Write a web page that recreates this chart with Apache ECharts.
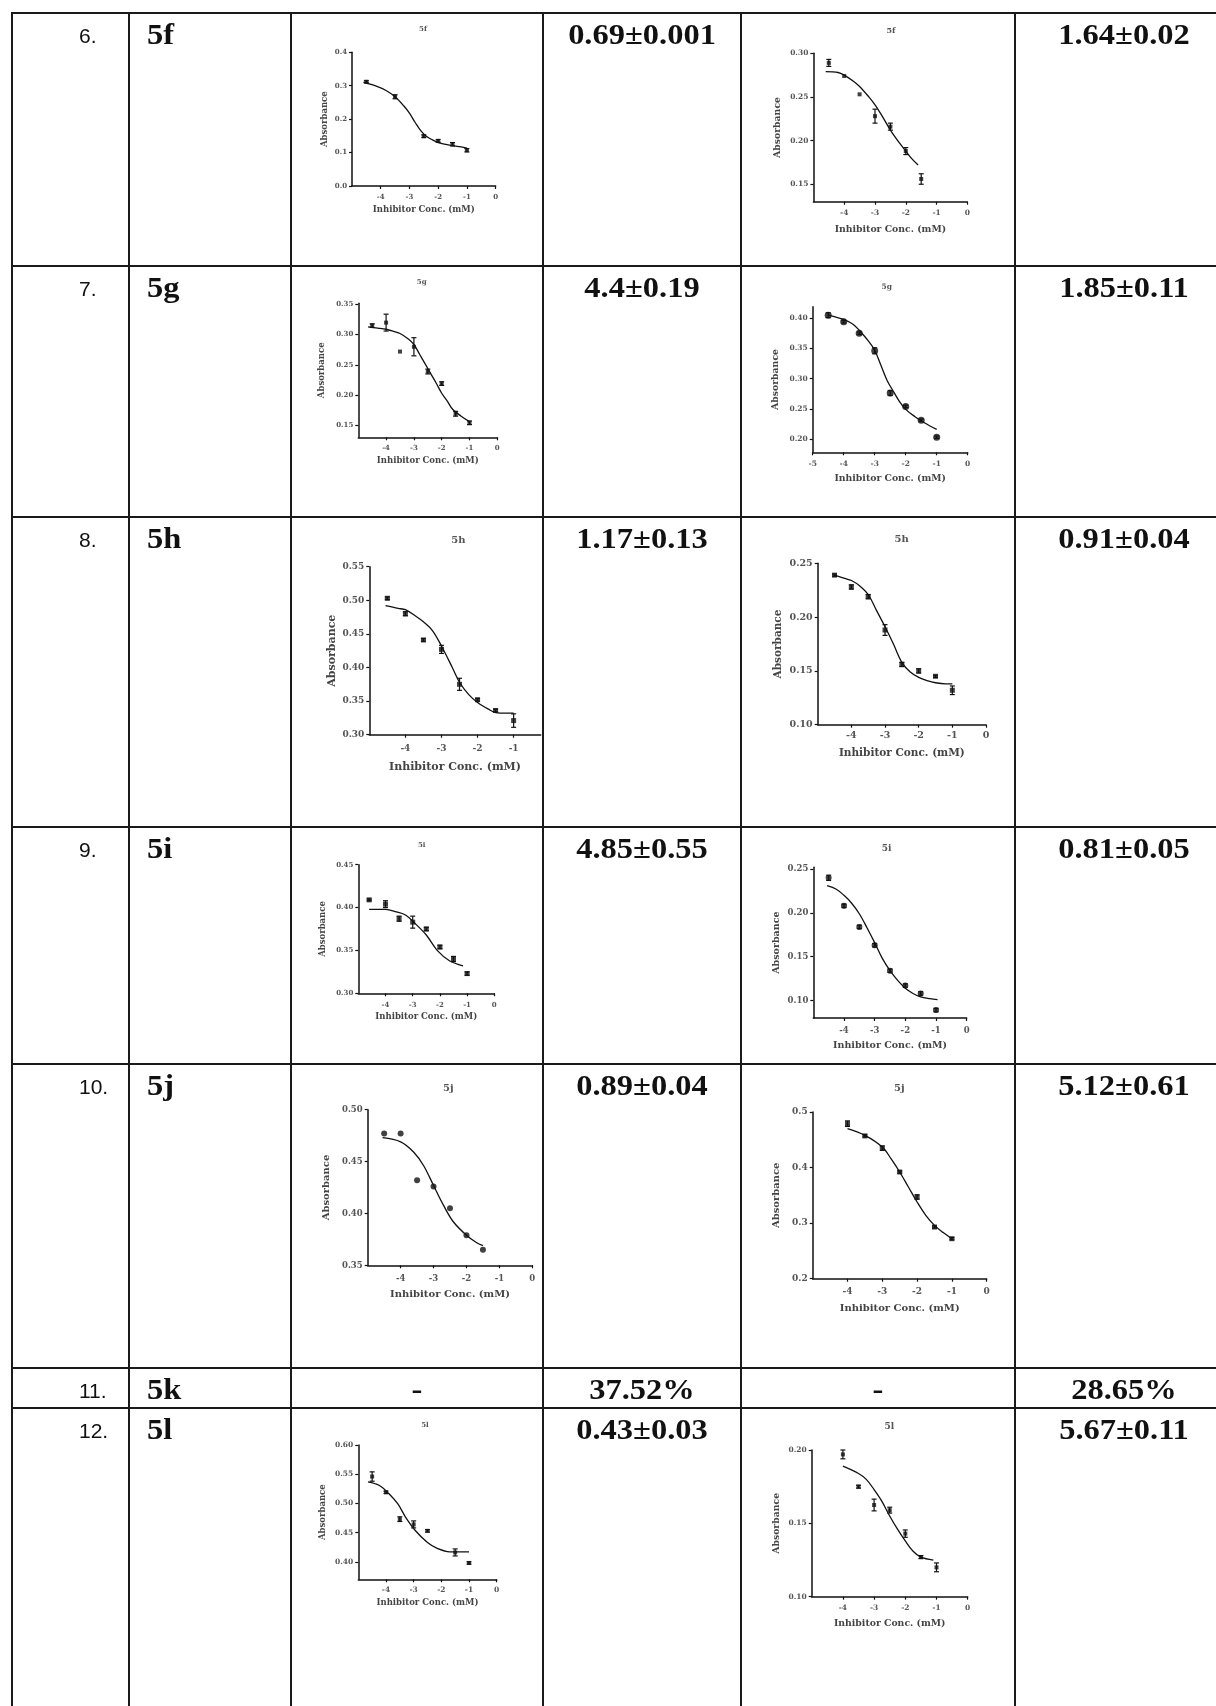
<!DOCTYPE html>
<html><head><meta charset="utf-8">
<script src="https://cdn.jsdelivr.net/npm/echarts@6/dist/echarts.min.js"></script>
<style>html,body{margin:0;padding:0;background:#fff}#c{width:1216px;height:1706px}</style>
</head><body><div id="c"></div>
<script>
// ---------- table text ----------
const rowNumbers = ['6.', '7.', '8.', '9.', '10.', '11.', '12.'];
const compounds  = ['5f', '5g', '5h', '5i', '5j', '5k', '5l'];
const ic50ColA   = ['0.69±0.001', '4.4±0.19', '1.17±0.13', '4.85±0.55', '0.89±0.04', '37.52%', '0.43±0.03'];
const ic50ColB   = ['1.64±0.02', '1.85±0.11', '0.91±0.04', '0.81±0.05', '5.12±0.61', '28.65%', '5.67±0.11'];
const hasCurves  = [true, true, true, true, true, false, true];

// ---------- chart data (log dose, absorbance) ----------
const dose_5f_A = [-4.5, -3.5, -2.5, -2.0, -1.5, -1.0];
const abs_5f_A  = [0.312, 0.267, 0.149, 0.135, 0.125, 0.107];
const err_5f_A  = [0.003, 0.006, 0.004, 0.004, 0.005, 0.005];
const fitX_5f_A = [-4.6, -4.2, -3.8, -3.5, -3.2, -3.0, -2.8, -2.6, -2.4, -2.2, -2.0, -1.6, -1.2, -1.0];
const fitY_5f_A = [0.310, 0.300, 0.285, 0.267, 0.240, 0.218, 0.190, 0.165, 0.148, 0.138, 0.130, 0.122, 0.117, 0.113];
const yTicks_5f_A = [0, 0.1, 0.2, 0.3, 0.4];
const xTicks_5f_A = [-4, -3, -2, -1, 0];

const dose_5f_B = [-4.5, -4.0, -3.5, -3.0, -2.5, -2.0, -1.5];
const abs_5f_B  = [0.289, 0.274, 0.253, 0.228, 0.216, 0.188, 0.156];
const err_5f_B  = [0.004, 0.0, 0.0, 0.008, 0.004, 0.004, 0.006];
const fitX_5f_B = [-4.6, -4.2, -4.0, -3.7, -3.5, -3.2, -3.0, -2.8, -2.5, -2.2, -2.0, -1.8, -1.6];
const fitY_5f_B = [0.279, 0.278, 0.275, 0.268, 0.262, 0.250, 0.241, 0.230, 0.212, 0.197, 0.188, 0.179, 0.172];
const yTicks_5f_B = [0.15, 0.20, 0.25, 0.30];
const xTicks_5f_B = [-4, -3, -2, -1, 0];

const dose_5g_A = [-4.5, -4.0, -3.5, -3.0, -2.5, -2.0, -1.5, -1.0];
const abs_5g_A  = [0.315, 0.320, 0.272, 0.280, 0.239, 0.219, 0.169, 0.154];
const err_5g_A  = [0.003, 0.014, 0.0, 0.015, 0.004, 0.003, 0.004, 0.003];
const fitX_5g_A = [-4.65, -4.3, -4.0, -3.7, -3.5, -3.2, -3.0, -2.8, -2.6, -2.4, -2.2, -2.0, -1.8, -1.6, -1.3, -1.0];
const fitY_5g_A = [0.313, 0.311, 0.309, 0.305, 0.302, 0.293, 0.284, 0.268, 0.252, 0.236, 0.220, 0.203, 0.190, 0.176, 0.165, 0.156];
const yTicks_5g_A = [0.15, 0.20, 0.25, 0.30, 0.35];
const xTicks_5g_A = [-4, -3, -2, -1, 0];

const dose_5g_B = [-4.5, -4.0, -3.5, -3.0, -2.5, -2.0, -1.5, -1.0];
const abs_5g_B  = [0.405, 0.394, 0.375, 0.346, 0.276, 0.254, 0.231, 0.203];
const err_5g_B  = [0.004, 0.002, 0.002, 0.005, 0.004, 0.002, 0.002, 0.002];
const fitX_5g_B = [-4.5, -4.2, -4.0, -3.7, -3.5, -3.2, -3.0, -2.8, -2.6, -2.4, -2.2, -2.0, -1.7, -1.4, -1.0];
const fitY_5g_B = [0.405, 0.401, 0.398, 0.390, 0.380, 0.362, 0.347, 0.322, 0.297, 0.279, 0.262, 0.249, 0.237, 0.227, 0.216];
const yTicks_5g_B = [0.20, 0.25, 0.30, 0.35, 0.40];
const xTicks_5g_B = [-5, -4, -3, -2, -1, 0];

const dose_5h_A = [-4.5, -4.0, -3.5, -3.0, -2.5, -2.0, -1.5, -1.0];
const abs_5h_A  = [0.503, 0.480, 0.441, 0.427, 0.375, 0.352, 0.336, 0.321];
const err_5h_A  = [0.002, 0.003, 0.002, 0.006, 0.009, 0.002, 0.002, 0.010];
const fitX_5h_A = [-4.55, -4.2, -4.0, -3.7, -3.5, -3.25, -3.0, -2.7, -2.5, -2.25, -2.0, -1.7, -1.5, -1.2, -1.0];
const fitY_5h_A = [0.492, 0.488, 0.486, 0.476, 0.468, 0.455, 0.432, 0.400, 0.378, 0.360, 0.348, 0.338, 0.333, 0.332, 0.332];
const yTicks_5h_A = [0.30, 0.35, 0.40, 0.45, 0.50, 0.55];
const xTicks_5h_A = [-4, -3, -2, -1];

const dose_5h_B = [-4.5, -4.0, -3.5, -3.0, -2.5, -2.0, -1.5, -1.0];
const abs_5h_B  = [0.239, 0.228, 0.219, 0.188, 0.156, 0.150, 0.145, 0.132];
const err_5h_B  = [0.001, 0.002, 0.002, 0.005, 0.002, 0.002, 0.001, 0.004];
const fitX_5h_B = [-4.5, -4.2, -4.0, -3.75, -3.5, -3.25, -3.0, -2.75, -2.5, -2.25, -2.0, -1.75, -1.5, -1.2, -1.0];
const fitY_5h_B = [0.239, 0.236, 0.234, 0.229, 0.221, 0.206, 0.191, 0.175, 0.158, 0.149, 0.144, 0.141, 0.139, 0.138, 0.138];
const yTicks_5h_B = [0.10, 0.15, 0.20, 0.25];
const xTicks_5h_B = [-4, -3, -2, -1, 0];

const dose_5i_A = [-4.6, -4.0, -3.5, -3.0, -2.5, -2.0, -1.5, -1.0];
const abs_5i_A  = [0.409, 0.404, 0.387, 0.383, 0.375, 0.354, 0.340, 0.323];
const err_5i_A  = [0.001, 0.004, 0.003, 0.007, 0.002, 0.002, 0.003, 0.002];
const fitX_5i_A = [-4.6, -4.0, -3.6, -3.25, -2.9, -2.5, -2.1, -1.65, -1.15];
const fitY_5i_A = [0.398, 0.398, 0.395, 0.391, 0.381, 0.368, 0.350, 0.338, 0.332];
const yTicks_5i_A = [0.30, 0.35, 0.40, 0.45];
const xTicks_5i_A = [-4, -3, -2, -1, 0];

const dose_5i_B = [-4.5, -4.0, -3.5, -3.0, -2.5, -2.0, -1.5, -1.0];
const abs_5i_B  = [0.240, 0.208, 0.184, 0.163, 0.134, 0.117, 0.108, 0.089];
const err_5i_B  = [0.003, 0.002, 0.002, 0.002, 0.002, 0.002, 0.002, 0.002];
const fitX_5i_B = [-4.55, -4.25, -4.0, -3.75, -3.5, -3.25, -3.0, -2.75, -2.5, -2.25, -2.0, -1.75, -1.5, -1.2, -0.95];
const fitY_5i_B = [0.231, 0.227, 0.220, 0.211, 0.199, 0.183, 0.166, 0.148, 0.134, 0.123, 0.114, 0.108, 0.104, 0.102, 0.101];
const yTicks_5i_B = [0.10, 0.15, 0.20, 0.25];
const xTicks_5i_B = [-4, -3, -2, -1, 0];

const dose_5j_A = [-4.5, -4.0, -3.5, -3.0, -2.5, -2.0, -1.5];
const abs_5j_A  = [0.477, 0.477, 0.432, 0.426, 0.405, 0.379, 0.365];
const err_5j_A  = [0, 0, 0, 0, 0, 0, 0];
const fitX_5j_A = [-4.55, -4.0, -3.6, -3.3, -3.0, -2.7, -2.4, -2.0, -1.7, -1.5];
const fitY_5j_A = [0.473, 0.469, 0.459, 0.446, 0.427, 0.408, 0.392, 0.379, 0.372, 0.369];
const yTicks_5j_A = [0.35, 0.40, 0.45, 0.50];
const xTicks_5j_A = [-4, -3, -2, -1, 0];

const dose_5j_B = [-4.0, -3.5, -3.0, -2.5, -2.0, -1.5, -1.0];
const abs_5j_B  = [0.479, 0.457, 0.435, 0.392, 0.347, 0.293, 0.272];
const err_5j_B  = [0.005, 0.002, 0.004, 0.002, 0.004, 0.002, 0.002];
const fitX_5j_B = [-4.0, -3.5, -3.0, -2.75, -2.5, -2.25, -2.0, -1.75, -1.5, -1.25, -1.0];
const fitY_5j_B = [0.470, 0.458, 0.437, 0.416, 0.392, 0.365, 0.338, 0.314, 0.296, 0.283, 0.272];
const yTicks_5j_B = [0.2, 0.3, 0.4, 0.5];
const xTicks_5j_B = [-4, -3, -2, -1, 0];

const dose_5l_A = [-4.5, -4.0, -3.5, -3.0, -2.5, -1.5, -1.0];
const abs_5l_A  = [0.546, 0.519, 0.473, 0.464, 0.453, 0.416, 0.398];
const err_5l_A  = [0.008, 0.002, 0.004, 0.006, 0.002, 0.006, 0.002];
const fitX_5l_A = [-4.65, -4.25, -3.9, -3.57, -3.3, -2.95, -2.5, -2.15, -1.7, -1.0];
const fitY_5l_A = [0.537, 0.531, 0.517, 0.499, 0.477, 0.454, 0.433, 0.423, 0.417, 0.417];
const yTicks_5l_A = [0.40, 0.45, 0.50, 0.55, 0.60];
const xTicks_5l_A = [-4, -3, -2, -1, 0];

const dose_5l_B = [-4.0, -3.5, -3.0, -2.5, -2.0, -1.5, -1.0];
const abs_5l_B  = [0.197, 0.175, 0.1625, 0.159, 0.143, 0.127, 0.120];
const err_5l_B  = [0.003, 0.001, 0.004, 0.002, 0.0025, 0.001, 0.003];
const fitX_5l_B = [-4.0, -3.5, -3.25, -3.0, -2.75, -2.5, -2.25, -2.0, -1.75, -1.5, -1.1];
const fitY_5l_B = [0.189, 0.184, 0.180, 0.173, 0.165, 0.155, 0.146, 0.138, 0.131, 0.127, 0.125];
const yTicks_5l_B = [0.10, 0.15, 0.20];
const xTicks_5l_B = [-4, -3, -2, -1, 0];

// ---------- layout ----------
const ROW_TOPS = [13, 266, 517, 827, 1064, 1368, 1408];
const COL_X = [12, 129, 291, 543, 741, 1015];
const PAGE_W = 1216, PAGE_H = 1706;

const charts = [
  {title:'5f', d:dose_5f_A, a:abs_5f_A, e:err_5f_A, fx:fitX_5f_A, fy:fitY_5f_A, yt:yTicks_5f_A, xt:xTicks_5f_A,
   box:[352,52.3,495.6,186], ymin:0, ymax:0.4, xmax:0, dec:1, tfs:7, nfs:8.5, ttfs:7, tp:[423,29], lm:7.2, xng:19.7, yng:23, sym:'rect', ss:4},
  {title:'5f', d:dose_5f_B, a:abs_5f_B, e:err_5f_B, fx:fitX_5f_B, fy:fitY_5f_B, yt:yTicks_5f_B, xt:xTicks_5f_B,
   box:[813.4,53.3,967.4,201.7], ymin:0.13, ymax:0.30, xmax:0, dec:2, tfs:7.5, nfs:9.3, ttfs:8, tp:[891,31], lm:7.8, xng:23.6, yng:31, sym:'rect', ss:4},
  {title:'5g', d:dose_5g_A, a:abs_5g_A, e:err_5g_A, fx:fitX_5g_A, fy:fitY_5g_A, yt:yTicks_5g_A, xt:xTicks_5g_A,
   box:[358.3,303.3,497.3,437.3], ymin:0.13, ymax:0.352, xmax:0, dec:2, tfs:7, nfs:8.5, ttfs:7, tp:[421.7,282], lm:7.3, xng:19.2, yng:32.5, sym:'rect', ss:4},
  {title:'5g', d:dose_5g_B, a:abs_5g_B, e:err_5g_B, fx:fitX_5g_B, fy:fitY_5g_B, yt:yTicks_5g_B, xt:xTicks_5g_B,
   box:[812.7,306.7,967.7,452.3], ymin:0.178, ymax:0.419, xmax:0, dec:2, tfs:7.5, nfs:9.3, ttfs:7.5, tp:[886.7,286.7], lm:8, xng:22, yng:33, sym:'circle', ss:7},
  {title:'5h', d:dose_5h_A, a:abs_5h_A, e:err_5h_A, fx:fitX_5h_A, fy:fitY_5h_A, yt:yTicks_5h_A, xt:xTicks_5h_A,
   box:[369.3,566.7,540.7,734.7], ymin:0.30, ymax:0.55, xmax:-0.25, dec:2, tfs:9, nfs:11, ttfs:10, tp:[458.3,540.7], lm:9.8, xng:26.8, yng:32.1, sym:'rect', ss:5},
  {title:'5h', d:dose_5h_B, a:abs_5h_B, e:err_5h_B, fx:fitX_5h_B, fy:fitY_5h_B, yt:yTicks_5h_B, xt:xTicks_5h_B,
   box:[817.7,563.3,986,724.7], ymin:0.10, ymax:0.25, xmax:0, dec:2, tfs:9.5, nfs:10.5, ttfs:10, tp:[901.7,539], lm:6.3, xng:23, yng:34.4, sym:'rect', ss:5},
  {title:'5i', d:dose_5i_A, a:abs_5i_A, e:err_5i_A, fx:fitX_5i_A, fy:fitY_5i_A, yt:yTicks_5i_A, xt:xTicks_5i_A,
   box:[358.3,864.7,494.3,993.3], ymin:0.30, ymax:0.45, xmax:0, dec:2, tfs:7, nfs:8.5, ttfs:7, tp:[421.7,844.7], lm:7.9, xng:19.2, yng:31, sym:'rect', ss:5},
  {title:'5i', d:dose_5i_B, a:abs_5i_B, e:err_5i_B, fx:fitX_5i_B, fy:fitY_5i_B, yt:yTicks_5i_B, xt:xTicks_5i_B,
   box:[813.3,867.3,966.7,1018], ymin:0.08, ymax:0.252, xmax:0, dec:2, tfs:8.5, nfs:9.5, ttfs:9, tp:[886.7,849], lm:7.8, xng:22.3, yng:31.9, sym:'circle', ss:6},
  {title:'5j', d:dose_5j_A, a:abs_5j_A, e:err_5j_A, fx:fitX_5j_A, fy:fitY_5j_A, yt:yTicks_5j_A, xt:xTicks_5j_A,
   box:[367.7,1109.7,532.3,1265.3], ymin:0.35, ymax:0.50, xmax:0, dec:2, tfs:8.5, nfs:10, ttfs:10, tp:[448.3,1088.7], lm:9.2, xng:24.4, yng:36, sym:'circle', ss:6},
  {title:'5j', d:dose_5j_B, a:abs_5j_B, e:err_5j_B, fx:fitX_5j_B, fy:fitY_5j_B, yt:yTicks_5j_B, xt:xTicks_5j_B,
   box:[812.7,1112,986.7,1278.7], ymin:0.2, ymax:0.5, xmax:0, dec:1, tfs:9, nfs:10, ttfs:10, tp:[899.3,1088.7], lm:8.8, xng:24.3, yng:31, sym:'rect', ss:5},
  {title:'5l', d:dose_5l_A, a:abs_5l_A, e:err_5l_A, fx:fitX_5l_A, fy:fitY_5l_A, yt:yTicks_5l_A, xt:xTicks_5l_A,
   box:[358.3,1445,496.7,1579.3], ymin:0.37, ymax:0.60, xmax:0, dec:2, tfs:7.5, nfs:8.5, ttfs:7, tp:[425,1425], lm:7, xng:18.5, yng:31, sym:'rect', ss:4},
  {title:'5l', d:dose_5l_B, a:abs_5l_B, e:err_5l_B, fx:fitX_5l_B, fy:fitY_5l_B, yt:yTicks_5l_B, xt:xTicks_5l_B,
   box:[811.7,1450,967.7,1596.7], ymin:0.10, ymax:0.20, xmax:0, dec:2, tfs:7.5, nfs:9.3, ttfs:9, tp:[889.3,1426.7], lm:7.5, xng:22.7, yng:30.4, sym:'rect', ss:4}
];

const CH_FONT = '"DejaVu Serif", serif';
const INK = '#111';

const grid = [], xAxis = [], yAxis = [], series = [], graphic = [];

charts.forEach((c, i) => {
  const [L, T, R, B] = c.box;
  grid.push({left: L, top: T, width: R - L, height: B - T, containLabel: false});
  const lblStyle = {fontSize: c.tfs, fontFamily: CH_FONT, fontWeight: 'bold', color: '#555'};
  const nameStyle = {fontSize: c.nfs, fontFamily: CH_FONT, fontWeight: 'bold', color: '#444'};
  xAxis.push({
    gridIndex: i, type: 'value', min: -5, max: c.xmax,
    axisLine: {show: true, onZero: false, lineStyle: {color: INK, width: 1.5}},
    axisTick: {show: true, length: 3, customValues: c.xt, lineStyle: {color: INK, width: 1.2}},
    axisLabel: Object.assign({customValues: c.xt, margin: c.lm, formatter: v => String(v)}, lblStyle),
    splitLine: {show: false},
    name: 'Inhibitor Conc. (mM)', nameLocation: 'middle', nameGap: c.xng, nameTextStyle: nameStyle
  });
  yAxis.push({
    gridIndex: i, type: 'value', min: c.ymin, max: c.ymax,
    axisLine: {show: true, onZero: false, lineStyle: {color: INK, width: 1.5}},
    axisTick: {show: true, length: 3, customValues: c.yt, lineStyle: {color: INK, width: 1.2}},
    axisLabel: Object.assign({customValues: c.yt, margin: 5, formatter: v => v.toFixed(c.dec)}, lblStyle),
    splitLine: {show: false},
    name: 'Absorbance', nameLocation: 'middle', nameRotate: 90, nameGap: c.yng, nameTextStyle: nameStyle
  });
  series.push({
    type: 'line', xAxisIndex: i, yAxisIndex: i, smooth: 0.35, showSymbol: false, silent: true,
    lineStyle: {color: INK, width: 1.3},
    data: c.fx.map((x, j) => [x, c.fy[j]])
  });
  series.push({
    type: 'custom', xAxisIndex: i, yAxisIndex: i, silent: true,
    encode: {x: 0, y: [1, 2]},
    data: c.d.map((x, j) => [x, c.a[j] - c.e[j], c.a[j] + c.e[j]]).filter((p, j) => c.e[j] > 0),
    renderItem: (params, api) => {
      const x = api.value(0);
      const lo = api.coord([x, api.value(1)]);
      const hi = api.coord([x, api.value(2)]);
      const w = 2.5;
      const st = {stroke: INK, lineWidth: 1.2};
      return {type: 'group', children: [
        {type: 'line', shape: {x1: lo[0], y1: lo[1], x2: hi[0], y2: hi[1]}, style: st},
        {type: 'line', shape: {x1: lo[0] - w, y1: lo[1], x2: lo[0] + w, y2: lo[1]}, style: st},
        {type: 'line', shape: {x1: hi[0] - w, y1: hi[1], x2: hi[0] + w, y2: hi[1]}, style: st}
      ]};
    }
  });
  series.push({
    type: 'scatter', xAxisIndex: i, yAxisIndex: i, symbol: c.sym, symbolSize: c.ss,
    itemStyle: {color: INK}, silent: true,
    data: c.d.map((x, j) => [x, c.a[j]])
  });
  graphic.push({
    type: 'text', x: c.tp[0], y: c.tp[1], silent: true,
    style: {text: c.title, fontSize: c.ttfs, fontFamily: CH_FONT, fontWeight: 'bold', fill: '#555',
            align: 'center', verticalAlign: 'middle', textAlign: 'center', textVerticalAlign: 'middle'}
  });
});

// ---------- table lines ----------
const LINE = {stroke: '#1a1a1a', lineWidth: 2};
ROW_TOPS.forEach(y => graphic.push({type: 'line', silent: true, shape: {x1: COL_X[0] - 1, y1: y, x2: PAGE_W, y2: y}, style: LINE}));
COL_X.forEach(x => graphic.push({type: 'line', silent: true, shape: {x1: x, y1: ROW_TOPS[0] - 1, x2: x, y2: PAGE_H}, style: LINE}));

// ---------- table text ----------
function cellText(str, x, y, align, font, size, weight, sx) {
  graphic.push({
    type: 'text', x: x, y: y, scaleX: sx, silent: true,
    style: {text: str, fontSize: size, fontFamily: font, fontWeight: weight, fill: '#111',
            align: align, verticalAlign: 'middle', textAlign: align, textVerticalAlign: 'middle'}
  });
}
const SERIF = '"Liberation Serif", "Times New Roman", serif';
const SANS = '"Liberation Sans", Arial, sans-serif';
rowNumbers.forEach((n, r) => {
  const top = ROW_TOPS[r];
  cellText(n, 79, top + 24.5, 'left', SANS, 20, 'normal', 1.05);
  cellText(compounds[r], 147, top + 23.5, 'left', SERIF, 29, 'bold', 1.12);
  cellText(ic50ColA[r], 642, top + 23.5, 'center', SERIF, 29, 'bold', 1.12);
  cellText(ic50ColB[r], 1124, top + 23.5, 'center', SERIF, 29, 'bold', 1.12);
  if (!hasCurves[r]) {
    cellText('-', 417, top + 23.5, 'center', SERIF, 29, 'bold', 1.12);
    cellText('-', 878, top + 23.5, 'center', SERIF, 29, 'bold', 1.12);
  }
});

const chart = echarts.init(document.getElementById('c'), null, {renderer: 'canvas'});
chart.setOption({animation: false, backgroundColor: '#fff', grid, xAxis, yAxis, series, graphic});
</script></body></html>
